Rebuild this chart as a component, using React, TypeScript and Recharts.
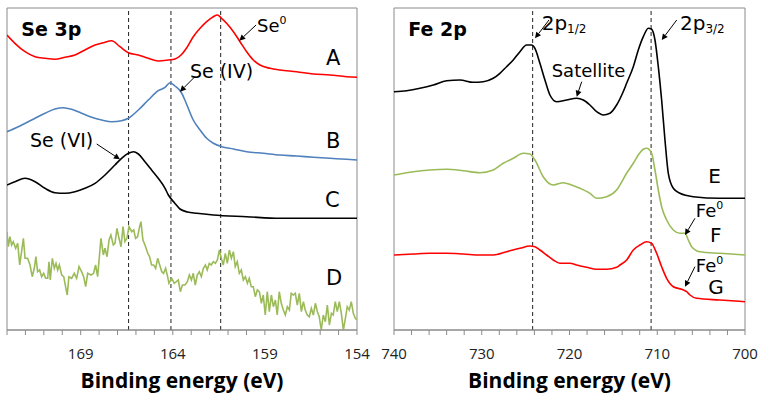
import {
  Line,
  LineChart,
  ReferenceArea,
  ReferenceDot,
  ReferenceLine,
  XAxis,
  YAxis,
} from "recharts";

// Se 3p spectra: [binding energy (eV), intensity (a.u.)]
const seA = [
  [173, 295], [172.57, 286.7], [172.02, 278.3], [171.48, 273.3], [170.94, 271.7],
  [170.4, 270.7], [169.85, 272.7], [169.31, 275], [168.77, 280], [168.22, 285],
  [167.77, 287.3], [167.32, 289.3], [166.87, 283.3], [166.41, 277.3], [165.87, 275],
  [165.33, 271.7], [164.79, 269], [164.24, 270], [163.88, 271], [163.55, 275],
  [163.25, 282], [162.89, 293.3], [162.52, 301.7], [162.16, 308.3], [161.8, 313.3],
  [161.58, 315], [161.35, 311.7], [161.08, 306.7], [160.71, 298.3], [160.35, 288.3],
  [159.99, 278.3], [159.63, 270], [159.27, 265], [158.72, 261.7], [158.18, 260],
  [157.28, 258.3], [156.37, 256], [155.47, 255], [154.56, 253.3], [154, 252.7],
];

const seB = [
  [173, 198.3], [172.39, 203.3], [171.66, 210], [170.94, 216.7], [170.4, 221],
  [169.94, 222.3], [169.49, 220.7], [168.95, 216.7], [168.4, 212.7], [167.86, 210],
  [167.32, 208.3], [166.78, 209.3], [166.41, 211.7], [165.87, 220], [165.33, 230],
  [164.79, 239.3], [164.42, 242.7], [164.15, 247.3], [163.88, 244], [163.52, 237],
  [163.3, 228], [162.89, 210], [162.52, 200], [162.16, 191.7], [161.8, 186.7],
  [161.35, 183.3], [160.71, 181], [159.99, 178.3], [159.09, 176.7], [158.18, 175],
  [157.28, 174], [156.37, 172.7], [155.47, 171.7], [154.56, 170.7], [154, 170],
];

const seC = [
  [173, 145], [172.57, 148.3], [172.02, 151.7], [171.48, 148.3], [170.94, 141.7],
  [170.4, 137.3], [169.85, 136.7], [169.31, 138.3], [168.77, 141.7], [168.22, 146.7],
  [167.68, 155], [167.14, 165], [166.78, 171.7], [166.41, 176.7], [166.14, 178.3],
  [165.87, 176], [165.51, 168.3], [165.15, 160], [164.79, 151.7], [164.42, 141.7],
  [164.24, 135], [163.9, 127], [163.61, 121], [163.2, 118], [162.7, 116.7],
  [161.8, 115], [159.99, 113.3], [158.18, 111.7], [156.37, 111.7], [154, 111.7],
];

const seD = [
  [173, 98.3], [172.93, 83.3], [172.84, 93.3], [172.75, 85], [172.66, 88.3],
  [172.53, 81.7], [172.42, 86.7], [172.31, 65], [172.21, 78.3], [172.11, 91.7],
  [172.02, 71.7], [171.88, 71.7], [171.75, 65], [171.63, 53.3], [171.52, 61.7],
  [171.43, 73.3], [171.34, 58.3], [171.23, 60], [171.12, 53.3], [171.01, 56.7],
  [170.9, 51.7], [170.79, 51.7], [170.72, 68.3], [170.65, 50], [170.54, 71.7],
  [170.43, 61.7], [170.34, 66.7], [170.25, 60], [170.16, 65], [170.03, 55],
  [169.92, 53.3], [169.82, 43.3], [169.73, 35], [169.64, 53.3], [169.49, 51.7],
  [169.35, 56.7], [169.22, 51.7], [169.09, 63.3], [168.95, 58.3], [168.84, 53.3],
  [168.73, 43.3], [168.62, 56.7], [168.44, 55], [168.3, 56.7], [168.19, 65],
  [168.08, 53.3], [167.9, 91.7], [167.77, 75], [167.68, 81.7], [167.57, 73.3],
  [167.46, 90], [167.36, 95], [167.23, 85], [167.14, 86.7], [167.03, 101.7],
  [166.92, 91.7], [166.81, 83.3], [166.7, 103.3], [166.6, 88.3], [166.49, 91.7],
  [166.38, 103.3], [166.23, 98.3], [166.12, 100], [166.02, 91.7], [165.91, 93.3],
  [165.8, 103.3], [165.73, 108.3], [165.62, 90], [165.51, 85], [165.36, 76.7],
  [165.26, 73.3], [165.15, 65], [165.04, 65], [164.93, 61.7], [164.82, 71.7],
  [164.71, 65], [164.6, 58.3], [164.5, 56.7], [164.39, 61.7], [164.28, 53.3],
  [164.21, 46.7], [164.06, 51.7], [163.92, 46.7], [163.81, 48.3], [163.7, 50],
  [163.59, 38.3], [163.48, 45], [163.34, 45], [163.21, 48.3], [163.1, 55],
  [162.99, 50], [162.89, 56.7], [162.78, 45], [162.67, 55], [162.56, 58.3],
  [162.45, 53.3], [162.34, 61.7], [162.23, 65], [162.13, 60], [162.02, 66.7],
  [161.91, 65], [161.8, 68.3], [161.69, 66.7], [161.58, 70], [161.47, 80],
  [161.37, 71.7], [161.26, 65], [161.15, 76.7], [161.04, 66.7], [160.93, 80],
  [160.82, 71.7], [160.71, 78.3], [160.61, 63.3], [160.5, 68.3], [160.39, 56.7],
  [160.28, 60], [160.17, 50], [160.06, 53.3], [159.95, 46.7], [159.85, 51.7],
  [159.74, 43.3], [159.63, 43.3], [159.52, 33.3], [159.41, 40], [159.3, 38.3],
  [159.19, 26.7], [159.09, 35], [158.98, 15], [158.87, 38.3], [158.76, 18.3],
  [158.65, 35], [158.54, 23.3], [158.43, 30], [158.33, 15], [158.22, 38.3],
  [158.11, 26.7], [158.0, 20], [157.89, 15], [157.78, 23.3], [157.67, 20],
  [157.57, 36.7], [157.46, 35], [157.35, 36.7], [157.24, 25], [157.13, 36.7],
  [157.02, 18.3], [156.91, 28.3], [156.81, 20], [156.7, 15], [156.59, 13.3],
  [156.48, 21.7], [156.37, 15], [156.26, 26.7], [156.15, 18.3], [156.05, 13.3],
  [155.94, 0], [155.83, 15], [155.72, 8.3], [155.61, 25], [155.5, 5],
  [155.39, 16.7], [155.29, 15], [155.18, 28.3], [155.07, 18.3], [154.96, 28.3],
  [154.85, 16.7], [154.74, 0], [154.63, 11.7], [154.53, 23.3], [154.42, 20],
  [154.31, 28.3], [154.2, 16.7], [154.09, 11.7], [154.0, 10],
];

// Fe 2p spectra
const feE = [
  [740, 238.3], [738.56, 239.3], [737.04, 241.7], [735.52, 245], [734, 249.3],
  [732.48, 250], [730.97, 247.7], [729.83, 248.3], [728.69, 251.7], [727.93, 256.7],
  [727.17, 263.3], [726.41, 270], [725.65, 278.3], [724.89, 285], [724.32, 285],
  [723.94, 281.7], [723.37, 266.7], [722.8, 250], [722.23, 235], [721.47, 228.3],
  [720.33, 230], [719.19, 231.7], [718.43, 230], [717.67, 225], [716.91, 218.3],
  [716.15, 215], [715.39, 216.7], [714.63, 225], [713.88, 238.3], [713.49, 246.7],
  [712.73, 263.3], [712.16, 280], [711.59, 293.3], [711.02, 301.7], [710.64, 300.7],
  [710.26, 290], [709.88, 263.3], [709.5, 230], [709.12, 190], [708.74, 156.7],
  [708.17, 141.7], [707.41, 136.7], [705.9, 133.3], [702.86, 131.7], [700, 131.7],
];

const feF = [
  [740, 155], [737.8, 158.3], [735.9, 160], [734, 160.7], [732.1, 159.3],
  [730.2, 157.3], [728.69, 160], [727.55, 166.7], [726.41, 171.7], [725.27, 176.7],
  [724.51, 176], [723.94, 170], [723, 153.3], [721.85, 145], [720.71, 147.3],
  [719.76, 145], [718.81, 141.7], [717.67, 136.7], [716.91, 131.7], [715.77, 133.3],
  [714.63, 140], [713.49, 156.7], [712.73, 166.7], [712.16, 175], [711.59, 180.7],
  [711.21, 181.7], [710.64, 176.7], [710.26, 160], [709.88, 140], [709.5, 123.3],
  [708.93, 110], [708.17, 100], [707.41, 96.7], [706.84, 96.7], [706.46, 90],
  [706.08, 83.3], [705.14, 78.3], [702.86, 76.7], [700, 75],
];

const feG = [
  [740, 75], [737.8, 76], [735.9, 76.7], [734, 76.7], [732.1, 76],
  [730.2, 75], [728.69, 75], [727.17, 78.3], [725.65, 81.7], [724.51, 84],
  [723.94, 83.3], [723.37, 80], [722.61, 75], [721.85, 70], [721.09, 66.7],
  [719.95, 66.7], [719.19, 65], [718.05, 62.7], [716.91, 60.7], [715.77, 60.7],
  [714.63, 62.7], [714.25, 65], [713.49, 70], [712.73, 80], [711.97, 85],
  [711.21, 88.3], [710.64, 86.7], [710.07, 76.7], [709.5, 63.3], [708.93, 51.7],
  [708.17, 43.3], [707.22, 40.7], [706.65, 38.3], [706.27, 35], [705.51, 31.7],
  [702.86, 30], [700, 28.3],
];

// peak positions (dashed guides)
const seGuides = [166.4, 164.1, 161.4];
const feGuides = [724.2, 710.7];

const seTicks = Array.from({ length: 20 }, (_, i) => 154 + i);
const feTicks = Array.from({ length: 21 }, (_, i) => 700 + i * 2);

// arrows: [fromE, fromI, toE, toI]
const seArrows = [
  [159.48, 305, 160.39, 289.3],
  [162.8, 253.3, 163.61, 238.3],
  [168.13, 186, 166.87, 170.7],
];
const feArrows = [
  [722.34, 310, 723.93, 291.7],
  [707.78, 310, 709.49, 290],
  [718.61, 248.3, 719.18, 233.3],
  [705.7, 111.7, 706.84, 95],
  [705.7, 63.3, 706.84, 43.3],
];

const toPts = (arr: number[][]) => arr.map(([e, v]) => ({ e, v }));

const ANNO = "'DejaVu Sans', sans-serif";
const AXIS = "'Open Sans', sans-serif";
const GRAY = "#8a8a8a";
const W = 382;
const H = 404;

const Arrow = (p: any) => {
  const { x1, y1, x2, y2 } = p;
  const dx = x2 - x1;
  const dy = y2 - y1;
  const len = Math.hypot(dx, dy) || 1;
  const ux = dx / len;
  const uy = dy / len;
  const bx = x2 - ux * 6;
  const by = y2 - uy * 6;
  return (
    <g>
      <line x1={x1} y1={y1} x2={bx} y2={by} stroke="#000" strokeWidth={1} />
      <polygon
        points={`${x2},${y2} ${bx - uy * 3},${by + ux * 3} ${bx + uy * 3},${by - ux * 3}`}
        fill="#000"
      />
    </g>
  );
};

function note(
  key: string,
  x: number,
  y: number,
  draw: (cx: number, cy: number) => any,
) {
  return (
    <ReferenceDot
      key={key}
      x={x}
      y={y}
      r={0}
      ifOverflow="visible"
      shape={(p: any) => draw(p.cx, p.cy)}
    />
  );
}

const txt = (s: string, size = 19, bold = false) => (cx: number, cy: number) => (
  <text x={cx} y={cy} fontFamily={ANNO} fontSize={size} fontWeight={bold ? 700 : 400} fill="#000">
    {s}
  </text>
);

const sup = (s: string, p: string) => (cx: number, cy: number) => (
  <text x={cx} y={cy} fontFamily={ANNO} fontSize={18} fill="#000">
    {s}
    <tspan dy={-8} fontSize={11}>{p}</tspan>
  </text>
);

const sub = (s: string, p: string) => (cx: number, cy: number) => (
  <text x={cx} y={cy} fontFamily={ANNO} fontSize={20} fill="#000">
    {s}
    <tspan dy={3} fontSize={12}>{p}</tspan>
  </text>
);

function axisProps(domain: number[], ticks: number[], step: number) {
  return {
    dataKey: "e",
    type: "number" as const,
    domain,
    reversed: true,
    ticks,
    interval: 0,
    allowDataOverflow: true,
    height: 60,
    tickSize: 5,
    tickMargin: 13,
    stroke: GRAY,
    tick: { fill: "#222", fontSize: 15, fontFamily: AXIS },
    tickFormatter: (v: number) => ((v - domain[0]) % step === 0 ? String(v) : ""),
    label: {
      value: "Binding energy (eV)",
      position: "insideBottom" as const,
      offset: 2,
      fill: "#000",
      fontSize: 21,
      fontWeight: 700,
      fontFamily: AXIS,
    },
  };
}

function Panel({
  left,
  margin,
  domain,
  ticks,
  step,
  series,
  guides,
  arrows,
  notes,
}: any) {
  return (
    <div style={{ position: "absolute", left, top: 0 }}>
      <LineChart width={W} height={H} margin={margin}>
        <XAxis {...axisProps(domain, ticks, step)} />
        <YAxis type="number" domain={[0, 322]} hide allowDataOverflow />
        <ReferenceArea
          x1={domain[0]}
          x2={domain[1]}
          y1={0}
          y2={322}
          fill="none"
          stroke={GRAY}
          strokeWidth={1}
          ifOverflow="visible"
        />
        {guides.map((g: number) => (
          <ReferenceLine key={g} x={g} stroke="#222" strokeDasharray="4 3" strokeWidth={1} />
        ))}
        {series.map((s: any) => (
          <Line
            key={s.name}
            data={toPts(s.data)}
            dataKey="v"
            type={s.type}
            stroke={s.color}
            strokeWidth={1.6}
            dot={false}
            isAnimationActive={false}
          />
        ))}
        {arrows.map((a: number[], i: number) => (
          <ReferenceLine
            key={"a" + i}
            segment={[
              { x: a[0], y: a[1] },
              { x: a[2], y: a[3] },
            ]}
            ifOverflow="visible"
            shape={Arrow}
          />
        ))}
        {notes}
      </LineChart>
    </div>
  );
}

export default function App() {
  const seSeries = [
    { name: "A", data: seA, color: "#ff0000", type: "monotone" },
    { name: "B", data: seB, color: "#4f81bd", type: "monotone" },
    { name: "C", data: seC, color: "#000000", type: "monotone" },
    { name: "D", data: seD, color: "#9bbb59", type: "linear" },
  ];
  const feSeries = [
    { name: "E", data: feE, color: "#000000", type: "monotone" },
    { name: "F", data: feF, color: "#9bbb59", type: "monotone" },
    { name: "G", data: feG, color: "#ff0000", type: "monotone" },
  ];

  const seNotes = [
    note("t", 172.22, 294, txt("Se 3p", 19, true)),
    note("se0", 159.43, 298, sup("Se", "0")),
    note("se4", 163.07, 252, txt("Se (IV)")),
    note("se6", 171.75, 183, txt("Se (VI)")),
    note("A", 155.68, 265, txt("A", 21)),
    note("B", 155.68, 182, txt("B", 21)),
    note("C", 155.74, 123, txt("C", 21)),
    note("D", 155.68, 45, txt("D", 21)),
  ];
  const feNotes = [
    note("t", 738.37, 294, txt("Fe 2p", 19, true)),
    note("p12", 723.17, 300, sub("2p", "1/2")),
    note("p32", 707.41, 300, sub("2p", "3/2")),
    note("sat", 722.03, 252.7, txt("Satellite", 18)),
    note("fe0a", 705.6, 113, sup("Fe", "0")),
    note("fe0b", 705.6, 58, sup("Fe", "0")),
    note("E", 704.2, 147, txt("E", 20)),
    note("F", 704.0, 88, txt("F", 20)),
    note("G", 704.2, 36, txt("G", 20)),
  ];

  return (
    <div style={{ position: "absolute", left: 0, top: 0, width: 764, height: 404, background: "#fff" }}>
      <Panel
        left={0}
        margin={{ top: 8, left: 7, right: 25, bottom: 14 }}
        domain={[154, 173]}
        ticks={seTicks}
        step={5}
        series={seSeries}
        guides={seGuides}
        arrows={seArrows}
        notes={seNotes}
      />
      <Panel
        left={380}
        margin={{ top: 8, left: 14, right: 17, bottom: 14 }}
        domain={[700, 740]}
        ticks={feTicks}
        step={10}
        series={feSeries}
        guides={feGuides}
        arrows={feArrows}
        notes={feNotes}
      />
    </div>
  );
}
